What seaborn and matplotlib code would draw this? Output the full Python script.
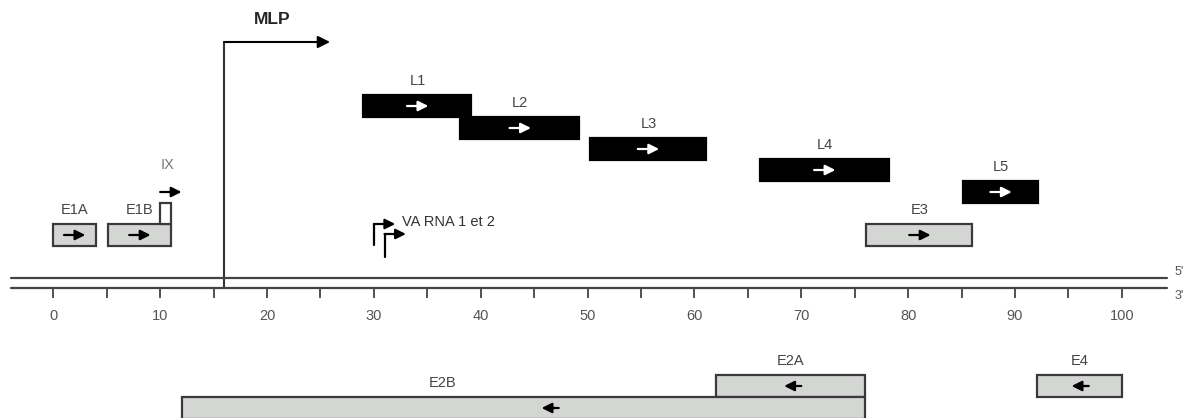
import matplotlib
matplotlib.use("Agg")
import matplotlib.pyplot as plt
import seaborn as sns
import pandas as pd
import numpy as np

# genome map, map units 0-100
gene_names = ["E1A", "E1B", "E3", "L1", "L2", "L3", "L4", "L5", "E2A", "E4", "E2B"]
gene_start = [0.0, 5.1, 76.1, 29.0, 38.1, 50.2, 66.1, 85.1, 62.0, 92.1, 12.0]
gene_end = [4.0, 11.0, 86.0, 39.1, 49.2, 61.1, 78.2, 92.2, 76.0, 100.0, 76.0]
gene_strand = [1, 1, 1, 1, 1, 1, 1, 1, -1, -1, -1]
gene_kind = ["early", "early", "early", "late", "late", "late", "late", "late", "early", "early", "early"]
label_pos = [2.0, 8.1, 81.1, 34.1, 43.7, 55.7, 72.2, 88.7, 69.0, 96.1, 36.4]
arrow_pos = [2.0, 8.1, 81.1, 34.1, 43.7, 55.7, 72.2, 88.7, 69.2, 96.1, 46.5]

ix_start, ix_end = 10.0, 11.0
mlp_pos, mlp_end = 16.0, 25.9
va_pos = [30.0, 31.0]
tick_major = list(range(0, 101, 10))
tick_minor = list(range(5, 100, 10))
genome_left, genome_right = -4.0, 104.2

# vertical layout (row top, px from top of the picture)
row_top = {"E1A": 224, "E1B": 224, "E3": 224, "L1": 95, "L2": 117, "L3": 138,
           "L4": 159, "L5": 181, "E2A": 375, "E4": 375, "E2B": 397}
box_h = 22
y5, y3 = 278, 288

df = pd.DataFrame({"gene": gene_names, "start": gene_start, "end": gene_end,
                   "strand": gene_strand, "kind": gene_kind,
                   "label_x": label_pos, "arrow_x": arrow_pos})
df["top"] = df["gene"].map(row_top)

sns.set_style("white")
plt.rcParams["font.family"] = ["Liberation Sans", "DejaVu Sans"]

fig = plt.figure(figsize=(11.87, 4.18), dpi=100)
ax = fig.add_axes([0, 0, 1, 1])
ax.set_xlim(-4.99, 106.1)
ax.set_ylim(418, 0)

grey_fill = "#d4d6d4"
edge = "#3a3a3a"
txt = "#444444"


def arrow(x0, x1, y, color, lw=1.6, ms=15):
    ax.annotate("", xy=(x1, y), xytext=(x0, y),
                arrowprops=dict(arrowstyle="-|>", color=color, lw=lw,
                                mutation_scale=ms, shrinkA=0, shrinkB=0))


for _, g in df.iterrows():
    late = g["kind"] == "late"
    ax.barh(g["top"] + box_h / 2, g["end"] - g["start"], left=g["start"], height=box_h,
            color="black" if late else grey_fill, edgecolor="black" if late else edge,
            linewidth=1.6, zorder=3)
    acol = "white" if late else "black"
    half = 1.0
    if g["strand"] > 0:
        arrow(g["arrow_x"] - half, g["arrow_x"] + half, g["top"] + box_h / 2, acol)
    else:
        arrow(g["arrow_x"] + half * 0.8, g["arrow_x"] - half * 0.8, g["top"] + box_h / 2, acol)
    ax.text(g["label_x"], g["top"] - 14, g["gene"], ha="center", va="center",
            fontsize=10.5, color=txt)

# protein IX
ax.barh(224 - 10.5, ix_end - ix_start, left=ix_start, height=21, color="white",
        edgecolor=edge, linewidth=1.6, zorder=3)
arrow(ix_start, ix_start + 2.0, 192, "black")
ax.text(ix_start + 0.7, 165, "IX", ha="center", va="center", fontsize=10.5, color="#777777")

# major late promoter
ax.plot([mlp_pos, mlp_pos], [y3, 42], color="#333333", lw=1.5, zorder=2)
arrow(mlp_pos, mlp_end, 42, "black", lw=1.5, ms=18)
ax.text(20.5, 20, "MLP", ha="center", va="center", fontsize=12.5, fontweight="bold")

# VA RNA
for x, (yb, yt) in zip(va_pos, [(245, 224), (257, 234)]):
    ax.plot([x, x], [yb, yt], color="black", lw=1.6)
    arrow(x, x + 2.0, yt, "black", lw=1.6, ms=15)
ax.text(32.6, 222, "VA RNA 1 et 2", ha="left", va="center", fontsize=10.5, color="#333333")

# genome strands
strands = pd.DataFrame({"x": [genome_left, genome_right] * 2,
                        "y": [y5, y5, y3, y3], "s": ["5'", "5'", "3'", "3'"]})
sns.lineplot(data=strands, x="x", y="y", units="s", estimator=None, color="#444444",
             lw=1.6, ax=ax)
ax.text(104.9, 271.7, "5'", ha="left", va="center", fontsize=9, color="#555555")
ax.text(104.9, 295.7, "3'", ha="left", va="center", fontsize=9, color="#555555")

# map unit ticks on the 3' strand
sns.despine(ax=ax, left=True, top=True, right=True, bottom=True)
ax.set_yticks([])
ax.xaxis.set_ticks_position("bottom")
ax.spines["bottom"].set_position(("data", y3))
ax.set_xticks(tick_major)
ax.set_xticks(tick_minor, minor=True)
ax.tick_params(axis="x", which="both", direction="out", length=7.5, width=1.2,
               color="#333333", labelsize=10.5, labelcolor="#555555", pad=7.5)
ax.set_xlabel("")
ax.set_ylabel("")
if ax.get_legend():
    ax.get_legend().remove()

fig.savefig("out.png", dpi=100)
